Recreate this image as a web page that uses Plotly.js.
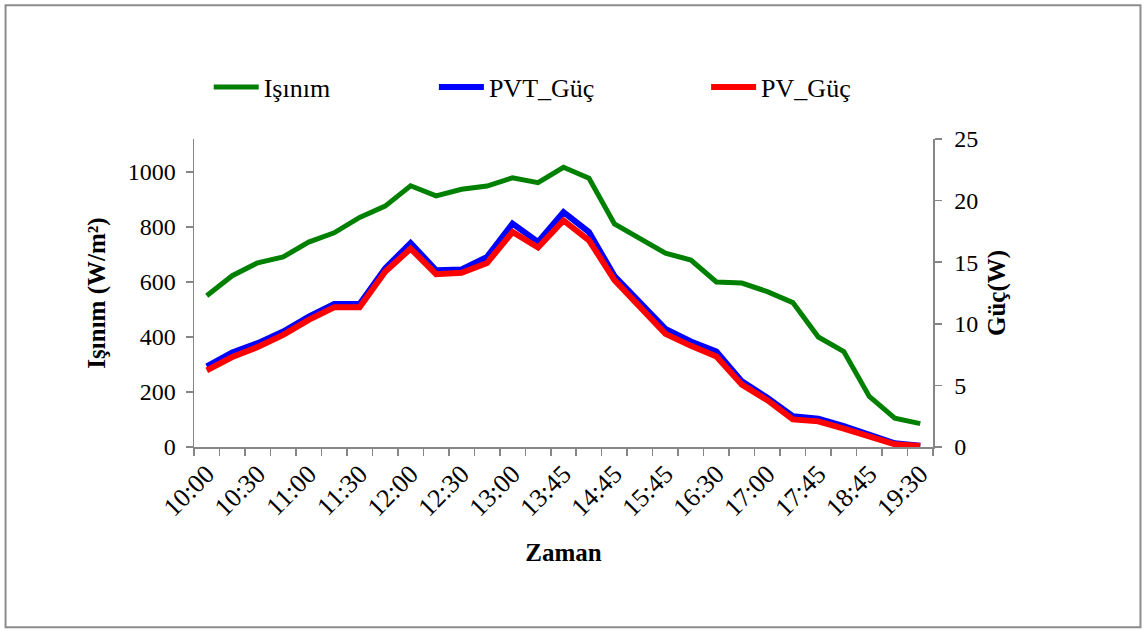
<!DOCTYPE html>
<html>
<head>
<meta charset="utf-8">
<script src="https://cdn.plot.ly/plotly-3.0.1.min.js"></script>
<style>
  html, body { margin: 0; padding: 0; background: #fff; }
  #chart { width: 1146px; height: 630px; }
</style>
</head>
<body>
<div id="chart"></div>
<script>
// ---- data ----
const categories = ['10:00','10:15','10:30','10:45','11:00','11:15','11:30','11:45','12:00','12:15',
  '12:30','12:45','13:00','13:15','13:45','14:15','14:45','15:15','15:45','16:00',
  '16:30','16:45','17:00','17:15','17:45','18:15','18:45','19:00','19:30'];
const isinim = [550, 623, 670, 691, 745, 779, 835, 876, 950, 913,
  937, 949, 979, 961, 1017, 977, 811, 759, 705, 680,
  600, 596, 565, 525, 400, 347, 184, 105, 85];
const pvtGuc = [6.54, 7.67, 8.43, 9.37, 10.58, 11.61, 11.61, 14.49, 16.56, 14.35,
  14.41, 15.43, 18.13, 16.64, 19.06, 17.45, 13.87, 11.79, 9.59, 8.56,
  7.75, 5.33, 3.99, 2.50, 2.29, 1.70, 1.03, 0.30, 0.11];
const pvGuc = [6.22, 7.30, 8.11, 9.10, 10.32, 11.34, 11.34, 14.22, 16.10, 14.03,
  14.14, 14.94, 17.45, 16.19, 18.39, 16.78, 13.55, 11.39, 9.18, 8.21,
  7.35, 5.06, 3.80, 2.24, 2.08, 1.49, 0.84, 0.22, 0.08];
const seriesNames = ['Işınım', 'PVT_Güç', 'PV_Güç'];

// ---- derived ----
const idx = categories.map((_, i) => i);
const labelIdx = idx.filter(i => i % 2 === 0);
const labelText = labelIdx.map(i => categories[i]);
const boundaries = idx.map(i => i - 0.5).concat([categories.length - 0.5]);

const FONT = '"Liberation Serif", "Times New Roman", serif';
const AX = '#868686';

// plot area in pixels
const L = 194.3, R = 932.7, T = 139, B = 447.5;
const W = 1146, H = 630;
const px2x = p => (p - L) / (R - L);
const py2y = p => (B - p) / (B - T);

const traces = [
  { x: idx, y: isinim, name: seriesNames[0], type: 'scatter', mode: 'lines',
    line: { color: '#008000', width: 5 }, yaxis: 'y', legend: 'legend' },
  { x: idx, y: pvtGuc, name: seriesNames[1], type: 'scatter', mode: 'lines',
    line: { color: '#0000ff', width: 6 }, yaxis: 'y2', legend: 'legend2' },
  { x: idx, y: pvGuc, name: seriesNames[2], type: 'scatter', mode: 'lines',
    line: { color: '#ff0000', width: 6 }, yaxis: 'y2', legend: 'legend3' }
];

const legendBase = (xpx) => ({
  x: px2x(xpx), y: py2y(87), xanchor: 'left', yanchor: 'middle',
  orientation: 'h', bgcolor: 'rgba(0,0,0,0)', borderwidth: 0,
  font: { family: FONT, size: 26, color: '#000' }, itemwidth: 45
});

const layout = {
  width: W, height: H,
  margin: { l: L, r: W - R, t: T, b: H - B, pad: 0 },
  paper_bgcolor: '#fff', plot_bgcolor: '#fff',
  showlegend: true,
  legend: legendBase(209),
  legend2: legendBase(434),
  legend3: legendBase(706),
  xaxis: {
    type: 'linear', range: [-0.5, categories.length - 0.5],
    tickmode: 'array', tickvals: labelIdx, ticktext: labelText,
    ticks: '', tickangle: -45,
    tickfont: { family: FONT, size: 26, color: '#000' },
    showline: true, linecolor: AX, linewidth: 1.5,
    showgrid: false, zeroline: false,
    minor: { tickmode: 'array', tickvals: boundaries, ticks: 'outside',
             ticklen: 7, tickcolor: AX, tickwidth: 1.5, showgrid: false },
    title: { text: '<b>Zaman</b>', font: { family: FONT, size: 25, color: '#000' }, standoff: 22 }
  },
  yaxis: {
    range: [0, 1120], tickmode: 'linear', tick0: 0, dtick: 200,
    ticks: 'outside', ticklen: 7, tickcolor: AX, tickwidth: 1.5,
    showline: true, linecolor: AX, linewidth: 1.5,
    showgrid: false, zeroline: false, ticklabelstandoff: 5,
    tickfont: { family: FONT, size: 24, color: '#000' },
    title: { text: '<b>Işınım (W/m²)</b>', font: { family: FONT, size: 25, color: '#000' }, standoff: 15 }
  },
  yaxis2: {
    overlaying: 'y', side: 'right',
    range: [0, 25], tickmode: 'linear', tick0: 0, dtick: 5,
    ticks: 'outside', ticklen: 7, tickcolor: AX, tickwidth: 1.5,
    showline: true, linecolor: AX, linewidth: 1.5,
    showgrid: false, zeroline: false, ticklabelstandoff: 8,
    tickfont: { family: FONT, size: 24, color: '#000' },
    title: { text: '<b>Güç(W)</b>', font: { family: FONT, size: 25, color: '#000' }, standoff: 10 }
  },
  shapes: [{
    type: 'rect', xref: 'paper', yref: 'paper',
    x0: px2x(6), x1: px2x(1140), y0: py2y(628), y1: py2y(5),
    line: { color: '#8c8c8c', width: 2 }, fillcolor: 'rgba(0,0,0,0)', layer: 'below'
  }]
};

Plotly.newPlot('chart', traces, layout, { displayModeBar: false, staticPlot: true });
</script>
</body>
</html>
